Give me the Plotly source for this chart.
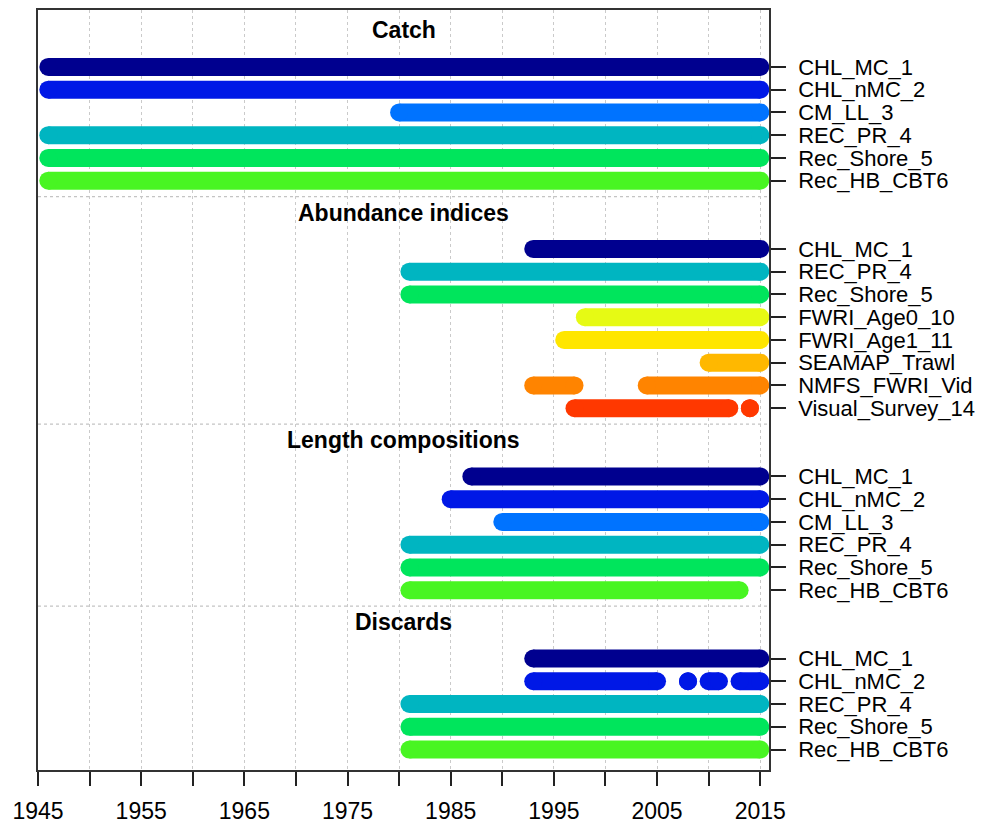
import plotly.graph_objects as go

# ---------------- data ----------------
catch_fleets = ["CHL_MC_1", "CHL_nMC_2", "CM_LL_3", "REC_PR_4", "Rec_Shore_5", "Rec_HB_CBT6"]
catch_runs = [
    [(1946, 2015)],
    [(1946, 2015)],
    [(1980, 2015)],
    [(1946, 2015)],
    [(1946, 2015)],
    [(1946, 2015)],
]

index_fleets = ["CHL_MC_1", "REC_PR_4", "Rec_Shore_5", "FWRI_Age0_10", "FWRI_Age1_11",
                "SEAMAP_Trawl", "NMFS_FWRI_Vid", "Visual_Survey_14"]
index_runs = [
    [(1993, 2015)],
    [(1981, 2015)],
    [(1981, 2015)],
    [(1998, 2015)],
    [(1996, 2015)],
    [(2010, 2015)],
    [(1993, 1997), (2004, 2015)],
    [(1997, 2012), (2014, 2014)],
]

length_fleets = ["CHL_MC_1", "CHL_nMC_2", "CM_LL_3", "REC_PR_4", "Rec_Shore_5", "Rec_HB_CBT6"]
length_runs = [
    [(1987, 2015)],
    [(1985, 2015)],
    [(1990, 2015)],
    [(1981, 2015)],
    [(1981, 2015)],
    [(1981, 2013)],
]

discard_fleets = ["CHL_MC_1", "CHL_nMC_2", "REC_PR_4", "Rec_Shore_5", "Rec_HB_CBT6"]
discard_runs = [
    [(1993, 2015)],
    [(1993, 2005), (2008, 2008), (2010, 2011), (2013, 2015)],
    [(1981, 2015)],
    [(1981, 2015)],
    [(1981, 2015)],
]

section_titles = ["Catch", "Abundance indices", "Length compositions", "Discards"]

fleet_colors = {
    "CHL_MC_1": "#00008F",
    "CHL_nMC_2": "#0018E6",
    "CM_LL_3": "#0073FF",
    "REC_PR_4": "#00B5C1",
    "Rec_Shore_5": "#00E55C",
    "Rec_HB_CBT6": "#48F522",
    "FWRI_Age0_10": "#E6FA14",
    "FWRI_Age1_11": "#FFE600",
    "SEAMAP_Trawl": "#FFB800",
    "NMFS_FWRI_Vid": "#FF8400",
    "Visual_Survey_14": "#FF3800",
}

tick_years = list(range(1945, 2016, 5))
tick_labels = [str(y) if (y - 1945) % 10 == 0 else "" for y in tick_years]

# ---------------- figure ----------------
sections = [
    (section_titles[0], catch_fleets, catch_runs),
    (section_titles[1], index_fleets, index_runs),
    (section_titles[2], length_fleets, length_runs),
    (section_titles[3], discard_fleets, discard_runs),
]

BAR = 18
fig = go.Figure()
row_vals, row_text = [], []
annotations, shapes = [], []
pos = 0.2
for si, (title, fleets, runs) in enumerate(sections):
    annotations.append(dict(
        x=0.5, xref="x domain", y=pos + 0.7, yref="y", text="<b>%s</b>" % title,
        showarrow=False, font=dict(size=23, color="#000000", family="Liberation Sans, Arial"),
        xanchor="center", yanchor="middle"))
    for i, (name, segs) in enumerate(zip(fleets, runs)):
        yv = pos + 2.3 + i
        row_vals.append(yv)
        row_text.append(name)
        xs, ys = [], []
        for (a, b) in segs:
            xs += [a, b, None]
            ys += [yv, yv, None]
        fig.add_trace(go.Scatter(
            x=xs, y=ys, mode="lines+markers",
            line=dict(color=fleet_colors[name], width=BAR),
            marker=dict(color=fleet_colors[name], size=BAR, line=dict(width=0)),
            showlegend=False, hoverinfo="skip"))
    last = pos + 2.3 + len(fleets) - 1
    pos = last + 0.7
    if si < len(sections) - 1:
        shapes.append(dict(type="line", xref="x domain", x0=0, x1=1, yref="y", y0=pos, y1=pos,
                           line=dict(color="#C4C4C4", width=1.2, dash="dot"), layer="below"))

fig.update_layout(
    width=997, height=829,
    margin=dict(l=30, r=236, t=2, b=67),
    paper_bgcolor="white", plot_bgcolor="white",
    font=dict(family="Liberation Sans, Arial", color="#000000"),
    annotations=annotations, shapes=shapes,
    xaxis=dict(
        range=[1945, 2015.85], tickmode="array", tickvals=tick_years, ticktext=tick_labels,
        ticks="outside", ticklen=14, tickwidth=1.5, tickcolor="#222222",
        tickfont=dict(size=23), ticklabelstandoff=6, automargin=False,
        showline=True, linecolor="#333333", linewidth=1.5, mirror=True,
        showgrid=True, gridcolor="#CACACA", gridwidth=1.2, griddash="dot", zeroline=False),
    yaxis=dict(
        range=[33.4, 0], side="right", tickmode="array", tickvals=row_vals, ticktext=row_text,
        ticks="outside", ticklen=15, tickwidth=1.5, tickcolor="#222222",
        tickfont=dict(size=22), ticklabelstandoff=8, automargin=False,
        showline=True, linecolor="#333333", linewidth=1.5, mirror=True,
        showgrid=False, zeroline=False),
)

fig.write_html("out.html")
